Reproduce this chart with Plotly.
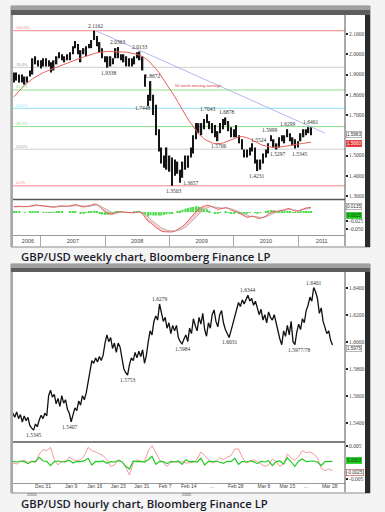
import plotly.graph_objects as go
import pandas as pd

W, H = 385, 512
def px(x): return x / W
def py(y): return 1 - y / H

# ---------------- WEEKLY CHART DATA (semi-monthly high/low bars) ----------------
wk_first_date = "2006-08-01"
wk_low = [
    1.86, 1.87, 1.86, 1.86, 1.85, 1.86, 1.89, 1.90, 1.95, 1.94,
    1.93, 1.94, 1.94, 1.94, 1.91, 1.92, 1.95, 1.98, 1.97, 1.96, 1.97, 1.97,
    2.00, 2.03, 2.00, 1.96, 2.00, 1.99, 2.03, 2.03, 2.07, 2.04, 2.01, 1.98,
    1.96, 1.9338, 1.94, 1.95, 1.98, 1.98, 1.97, 1.96, 1.94, 1.94, 1.94, 1.95,
    1.98, 1.97, 1.92, 1.84, 1.7448, 1.77, 1.70, 1.60, 1.52, 1.46, 1.44, 1.43,
    1.42, 1.3503, 1.40, 1.41, 1.3657, 1.39, 1.43, 1.44, 1.49, 1.51, 1.58, 1.61,
    1.60, 1.63, 1.66, 1.63, 1.61, 1.59, 1.5706, 1.61, 1.63, 1.65, 1.62, 1.59,
    1.59, 1.59, 1.56, 1.53, 1.49, 1.49, 1.50, 1.52, 1.46, 1.4231, 1.43, 1.46,
    1.49, 1.51, 1.57, 1.54, 1.5297, 1.54, 1.57, 1.56, 1.59, 1.57, 1.55, 1.5345,
    1.54, 1.57, 1.59, 1.60, 1.61, 1.60,
]
wk_high = [
    1.91, 1.91, 1.90, 1.90, 1.89, 1.89, 1.92, 1.98, 1.99, 1.97,
    1.97, 1.98, 1.98, 1.97, 1.96, 1.97, 1.99, 2.01, 2.00, 1.99, 2.00, 2.01,
    2.04, 2.0655, 2.05, 2.02, 2.03, 2.04, 2.05, 2.07, 2.1162, 2.09, 2.06, 2.03,
    1.99, 1.99, 1.99, 1.98, 2.03, 2.0363, 2.00, 2.00, 1.99, 1.98, 1.98, 1.99,
    2.01, 2.0133, 1.99, 1.90, 1.80, 1.8672, 1.80, 1.75, 1.63, 1.54, 1.50, 1.54,
    1.50, 1.49, 1.48, 1.47, 1.43, 1.47, 1.50, 1.50, 1.54, 1.60, 1.66, 1.66,
    1.66, 1.68, 1.7043, 1.67, 1.66, 1.65, 1.62, 1.66, 1.68, 1.6878, 1.67, 1.64,
    1.63, 1.65, 1.60, 1.58, 1.53, 1.53, 1.54, 1.56, 1.54, 1.48, 1.48, 1.51,
    1.53, 1.56, 1.5999, 1.58, 1.56, 1.59, 1.60, 1.60, 1.6299, 1.61, 1.59, 1.58,
    1.57, 1.61, 1.63, 1.63, 1.6401, 1.64,
]
wk_ma = [
    1.790, 1.805, 1.820, 1.833, 1.846, 1.858, 1.869, 1.879, 1.888, 1.896,
    1.903, 1.909, 1.915, 1.921, 1.926, 1.931, 1.936, 1.941, 1.946, 1.951, 1.956, 1.961,
    1.966, 1.971, 1.976, 1.981, 1.986, 1.991, 1.996, 2.000, 2.004, 2.007, 2.010, 2.012,
    2.013, 2.014, 2.014, 2.014, 2.013, 2.013, 2.012, 2.011, 2.010, 2.008, 2.006, 2.003,
    2.000, 1.995, 1.988, 1.980, 1.970, 1.958, 1.944, 1.928, 1.910, 1.892, 1.873, 1.853,
    1.832, 1.811, 1.789, 1.767, 1.745, 1.723, 1.701, 1.680, 1.660, 1.641, 1.623, 1.607,
    1.594, 1.583, 1.574, 1.567, 1.562, 1.559, 1.558, 1.559, 1.562, 1.567, 1.573, 1.579,
    1.585, 1.590, 1.593, 1.594, 1.592, 1.588, 1.582, 1.575, 1.568, 1.561, 1.555, 1.550,
    1.546, 1.543, 1.541, 1.540, 1.540, 1.541, 1.543, 1.545, 1.548, 1.550, 1.552, 1.554,
    1.556, 1.558, 1.560, 1.562, 1.564, 1.566,
]
wk_macd = [
    0.016, 0.017, 0.017, 0.016, 0.015, 0.016, 0.017, 0.019, 0.021, 0.020,
    0.019, 0.018, 0.017, 0.016, 0.014, 0.014, 0.016, 0.018, 0.018, 0.017, 0.017, 0.018,
    0.020, 0.022, 0.020, 0.016, 0.015, 0.016, 0.018, 0.020, 0.024, 0.022, 0.016, 0.008,
    0.002, -0.004, -0.006, -0.006, -0.002, 0.001, 0.001, 0.000, -0.002, -0.003, -0.002, -0.001,
    0.001, 0.001, -0.005, -0.015, -0.027, -0.030, -0.038, -0.045, -0.050, -0.055, -0.057, -0.058,
    -0.057, -0.058, -0.055, -0.051, -0.048, -0.042, -0.034, -0.026, -0.017, -0.008, 0.003, 0.010,
    0.014, 0.017, 0.020, 0.019, 0.016, 0.012, 0.008, 0.009, 0.011, 0.013, 0.011, 0.006,
    0.003, 0.002, -0.003, -0.007, -0.012, -0.015, -0.014, -0.012, -0.014, -0.018, -0.018, -0.016,
    -0.012, -0.006, 0.000, 0.003, 0.002, 0.003, 0.006, 0.007, 0.010, 0.010, 0.006, 0.003,
    0.003, 0.006, 0.010, 0.012, 0.013, 0.0135,
]
wk_signal = [
    0.015, 0.016, 0.016, 0.016, 0.016, 0.016, 0.016, 0.017, 0.018, 0.019,
    0.019, 0.019, 0.018, 0.017, 0.016, 0.015, 0.015, 0.016, 0.017, 0.017, 0.017, 0.017,
    0.018, 0.019, 0.020, 0.019, 0.018, 0.017, 0.017, 0.018, 0.020, 0.021, 0.019, 0.015,
    0.010, 0.004, 0.000, -0.003, -0.003, -0.002, -0.001, 0.000, -0.001, -0.002, -0.002, -0.002,
    -0.001, 0.000, -0.002, -0.007, -0.014, -0.021, -0.028, -0.035, -0.040, -0.045, -0.049, -0.052,
    -0.054, -0.055, -0.055, -0.054, -0.052, -0.049, -0.044, -0.038, -0.031, -0.023, -0.014, -0.006,
    0.001, 0.007, 0.012, 0.015, 0.016, 0.015, 0.013, 0.011, 0.011, 0.012, 0.012, 0.010,
    0.007, 0.004, 0.001, -0.002, -0.006, -0.010, -0.012, -0.012, -0.013, -0.015, -0.016, -0.016,
    -0.014, -0.011, -0.006, -0.002, 0.000, 0.002, 0.004, 0.005, 0.007, 0.008, 0.007, 0.005,
    0.004, 0.005, 0.007, 0.009, 0.011, 0.012,
]
wk_last_close = 1.5983
wk_dates = pd.date_range(wk_first_date, periods=len(wk_low), freq="SMS")
wk_range = ["2006-07-27", "2011-09-24"]

wk_price_ticks = [1.3, 1.4, 1.5, 1.6, 1.7, 1.8, 1.9, 2.0, 2.1]
wk_price_ticktext = ["1.3000", "1.4000", "1.5000", "", "1.7000", "1.8000", "1.9000", "2.0000", "2.1000"]
wk_macd_ticks = [-0.025, -0.05]
wk_macd_ticktext = ["-0.025", "-0.050"]
wk_year_label_dates = ["2006-10-20", "2007-07-02", "2008-07-01", "2009-07-02", "2010-07-02", "2011-05-15"]
wk_year_labels = ["2006", "2007", "2008", "2009", "2010", "2011"]

fib_high, fib_low = 2.1162, 1.3503
fib_pcts = [1.0, 0.764, 0.618, 0.5, 0.382, 0.236, 0.0]
fib_names = ["100.0%", "76.4%", "61.8%", "50.0%", "38.2%", "23.6%", "0.0%"]
fib_colors = ["#f08a8a", "#cfcfcf", "#8be08b", "#8fe3f5", "#8be08b", "#cfcfcf", "#f08a8a"]

trend_dates = ["2007-11-09", "2011-06-01"]
trend_vals = [2.1162, 1.611]

wk_lab_dates = ["2007-11-09", "2008-03-14", "2008-07-15", "2008-01-22", "2008-09-25", "2008-09-10",
                "2009-01-23", "2009-03-02", "2009-08-05", "2009-11-20", "2009-10-05", "2010-05-20",
                "2010-05-12", "2010-07-22", "2010-09-08", "2010-11-04", "2011-01-08", "2011-03-10"]
wk_lab_vals = [2.1162, 2.0363, 2.0133, 1.9338, 1.8672, 1.7448,
               1.3503, 1.3657, 1.7043, 1.6878, 1.5706, 1.5524,
               1.4231, 1.5999, 1.5297, 1.6299, 1.5345, 1.6401]
wk_lab_dir = ["a", "a", "a", "b", "a", "l",
              "b", "r", "a", "a", "b", "a",
              "b", "a", "b", "a", "b", "a"]

# ---------------- HOURLY CHART DATA ----------------
hr_t0, hr_step = -2.4, 0.4          # trading-day index (Dec 27, 2010 = 0)
hr_close = [
    1.5470, 1.5440, 1.5480, 1.5430, 1.5460, 1.5405, 1.5450, 1.5415, 1.5440, 1.5380,
    1.5360, 1.5345, 1.5390, 1.5370, 1.5420, 1.5455, 1.5430, 1.5470, 1.5450, 1.5600,
    1.5640, 1.5590, 1.5610, 1.5540, 1.5580, 1.5520, 1.5600, 1.5545, 1.5570, 1.5500,
    1.5470, 1.5407, 1.5460, 1.5510, 1.5490, 1.5560, 1.5530, 1.5600, 1.5570, 1.5620,
    1.5700, 1.5780, 1.5860, 1.5840, 1.5880, 1.5850, 1.5890, 1.5860, 1.5900, 1.5990,
    1.6050, 1.6000, 1.6030, 1.5950, 1.5990, 1.5920, 1.5990, 1.5960, 1.5860, 1.5800,
    1.5770, 1.5753, 1.5830, 1.5880, 1.5860, 1.5920, 1.5880, 1.5930, 1.5890, 1.5940,
    1.5840, 1.5900, 1.6000, 1.6080, 1.6050, 1.6150, 1.6190, 1.6160, 1.6279, 1.6200,
    1.6150, 1.6180, 1.6100, 1.6140, 1.6060, 1.6120, 1.6080, 1.6120, 1.6030, 1.6000,
    1.5984, 1.6020, 1.6050, 1.6000, 1.6100, 1.6060, 1.6170, 1.6120, 1.6080, 1.6180,
    1.6130, 1.6210, 1.6090, 1.6040, 1.6140, 1.6100, 1.6200, 1.6235, 1.6150, 1.6110,
    1.6200, 1.6230, 1.6140, 1.6090, 1.6060, 1.6031, 1.6080, 1.6130, 1.6190, 1.6250,
    1.6290, 1.6260, 1.6310, 1.6280, 1.6320, 1.6344, 1.6300, 1.6320, 1.6270, 1.6300,
    1.6250, 1.6200, 1.6240, 1.6160, 1.6200, 1.6140, 1.6220, 1.6180, 1.6160, 1.6200,
    1.6140, 1.6070, 1.6020, 1.5977, 1.6080, 1.6040, 1.6120, 1.6050, 1.6150, 1.6000,
    1.5978, 1.6070, 1.6130, 1.6090, 1.6170, 1.6140, 1.6230, 1.6270, 1.6330, 1.6300,
    1.6401, 1.6370, 1.6320, 1.6210, 1.6250, 1.6150, 1.6100, 1.6060, 1.6080, 1.6010,
    1.5975,
]
hr_osc_t0, hr_osc_step = -2.4, 0.8
hr_red = [
    -0.0002, -0.0005, 0.0002, 0.0007, 0.0000, 0.0002, 0.0000, 0.0025, 0.0038, 0.0035,
    0.0045, 0.0008, -0.0008, 0.0004, 0.0000, 0.0016, 0.0008, 0.0004, 0.0008, 0.0020,
    0.0045, 0.0035, 0.0031, 0.0025, 0.0020, 0.0008, -0.0012, -0.0008, 0.0008, 0.0002,
    -0.0015, -0.0038, -0.0002, 0.0008, 0.0002, 0.0002, 0.0035, 0.0050, 0.0027, 0.0008,
    -0.0002, -0.0012, 0.0000, 0.0002, 0.0000, 0.0002, -0.0002, 0.0000, 0.0000, 0.0010,
    0.0031, 0.0020, 0.0008, -0.0002, 0.0002, 0.0014, 0.0008, 0.0016, 0.0020, 0.0040,
    0.0040, 0.0016, -0.0002, 0.0002, 0.0008, 0.0002, -0.0005, -0.0012, -0.0008, 0.0010,
    0.0002, -0.0012, -0.0005, 0.0025, 0.0014, 0.0006, 0.0018, 0.0035, 0.0029, 0.0031,
    0.0025, 0.0014, -0.0018, -0.0025, -0.0020, -0.0025,
]
hr_green = [
    0.0003, 0.0001, 0.0004, 0.0002, -0.0004, 0.0003, 0.0002, 0.0015, 0.0004, 0.0003,
    -0.0010, 0.0002, 0.0004, 0.0001, 0.0003, 0.0006, -0.0002, 0.0003, 0.0002, 0.0005,
    0.0012, -0.0008, 0.0003, 0.0002, 0.0004, -0.0003, 0.0002, 0.0001, 0.0005, 0.0002,
    -0.0012, -0.0020, 0.0004, 0.0002, 0.0003, 0.0001, 0.0008, 0.0018, -0.0006, 0.0003,
    0.0002, -0.0004, 0.0003, 0.0001, 0.0004, -0.0006, 0.0008, 0.0002, 0.0003, 0.0001,
    0.0012, -0.0008, 0.0003, 0.0002, 0.0004, 0.0001, -0.0003, 0.0003, 0.0002, 0.0012,
    -0.0006, 0.0003, 0.0001, 0.0004, 0.0002, -0.0004, 0.0003, 0.0001, 0.0005, -0.0010,
    0.0002, 0.0004, -0.0005, 0.0014, 0.0002, -0.0012, 0.0004, 0.0010, 0.0002, 0.0003,
    0.0004, 0.0001, -0.0010, 0.0002, 0.0003, 0.0003,
]
hr_range = [-2.38, 68.26]
hr_price_ticks = [1.54, 1.56, 1.58, 1.60, 1.62, 1.64]
hr_osc_ticks = [0.005, -0.005]
hr_osc_ticktext = ["0.005", "-0.005"]
hr_day_ticks = [4, 10, 15, 20, 25, 30, 35, 40, 45, 51, 56, 60, 65]
hr_day_labels = ["Dec 31", "Jan 9", "Jan 16", "Jan 23", "Jan 31", "Feb 7", "Feb 14", "...",
                 "Feb 28", "Mar 8", "Mar 15", "...", "Mar 28"]
hr_year_labels = ["2010", "2011"]

hr_lab_t = [2.0, 9.6, 22.0, 28.8, 33.6, 43.6, 47.6, 58.5, 61.6]
hr_lab_vals = [1.5345, 1.5407, 1.5753, 1.6279, 1.5984, 1.6031, 1.6344, 1.5977, 1.6401]
hr_lab_text = ["1.5345", "1.5407", "1.5753", "1.6279", "1.5984", "1.6031", "1.6344", "1.5977/78", "1.6401"]
hr_lab_dir = ["b", "b", "b", "a", "b", "b", "a", "b", "a"]

captions = ["GBP/USD weekly chart, Bloomberg Finance LP", "GBP/USD hourly chart, Bloomberg Finance LP"]

# ---------------- FIGURE ----------------
hr_t = [hr_t0 + i * hr_step for i in range(len(hr_close))]
hr_osc_t = [hr_osc_t0 + i * hr_osc_step for i in range(len(hr_red))]
wk_hist = [m - s for m, s in zip(wk_macd, wk_signal)]
DAY_MS = 86400000

fig = go.Figure()
fig.add_trace(go.Bar(x=wk_dates, y=[h - l for h, l in zip(wk_high, wk_low)], base=wk_low,
                     width=8 * DAY_MS, marker=dict(color="#151515", line=dict(width=0)),
                     xaxis="x", yaxis="y", hoverinfo="skip"))
fig.add_trace(go.Scatter(x=wk_dates, y=wk_ma, mode="lines", line=dict(color="#e8605a", width=1),
                         xaxis="x", yaxis="y", hoverinfo="skip"))
fig.add_trace(go.Scatter(x=trend_dates, y=trend_vals, mode="lines", line=dict(color="#a4a4e4", width=0.8),
                         xaxis="x", yaxis="y", hoverinfo="skip"))
fig.add_trace(go.Bar(x=wk_dates, y=wk_hist, width=12 * DAY_MS, marker=dict(color="#48dc48", line=dict(width=0)),
                     xaxis="x2", yaxis="y2", hoverinfo="skip"))
fig.add_trace(go.Scatter(x=wk_dates, y=wk_signal, mode="lines", line=dict(color="#b8b8b8", width=1),
                         xaxis="x2", yaxis="y2", hoverinfo="skip"))
fig.add_trace(go.Scatter(x=wk_dates, y=wk_macd, mode="lines", line=dict(color="#e8605a", width=1),
                         fill="tonexty", fillcolor="rgba(240,120,120,0.35)",
                         xaxis="x2", yaxis="y2", hoverinfo="skip"))
fig.add_trace(go.Scatter(x=hr_t, y=hr_close, mode="lines", line=dict(color="#111111", width=1.3),
                         xaxis="x3", yaxis="y3", hoverinfo="skip"))
fig.add_trace(go.Scatter(x=hr_osc_t, y=hr_red, mode="lines", line=dict(color="#f08080", width=0.8),
                         xaxis="x4", yaxis="y4", hoverinfo="skip"))
fig.add_trace(go.Scatter(x=hr_osc_t, y=hr_green, mode="lines", line=dict(color="#22cc22", width=1.2),
                         xaxis="x4", yaxis="y4", hoverinfo="skip"))

tick_font = dict(family="Liberation Serif", size=5.5, color="#444444")
common_y = dict(side="right", showgrid=False, zeroline=False, showline=False, ticks="outside",
                ticklen=2, tickwidth=1.5, tickcolor="#222222", tickfont=tick_font, fixedrange=True)
xdom = [px(13), px(345)]
fig.update_layout(
    width=W, height=H, margin=dict(l=0, r=0, t=0, b=0),
    paper_bgcolor="#f4f4f4", plot_bgcolor="#ffffff", showlegend=False, barmode="overlay",
    xaxis=dict(domain=xdom, range=wk_range, type="date", anchor="y", showticklabels=False, ticks="",
               showgrid=False, zeroline=False),
    yaxis=dict(domain=[py(199), py(15)], range=[1.2852, 2.1938], anchor="x", tickvals=wk_price_ticks,
               ticktext=wk_price_ticktext, **common_y),
    xaxis2=dict(domain=xdom, range=wk_range, type="date", matches="x", anchor="y2",
                tickvals=wk_year_label_dates, ticktext=wk_year_labels, ticks="outside", ticklen=0,
                tickfont=dict(family="Liberation Sans", size=5.5, color="#444444"),
                minor=dict(ticks="outside", ticklen=11, tickcolor="#aaaaaa", tickwidth=1,
                           dtick="M12", tick0="2007-01-01"),
                showgrid=False, zeroline=False, showline=True, linecolor="#999999", linewidth=1),
    yaxis2=dict(domain=[py(235), py(200)], range=[-0.0666, 0.0352], anchor="x2", tickvals=wk_macd_ticks,
                ticktext=wk_macd_ticktext, **common_y),
    xaxis3=dict(domain=xdom, range=hr_range, anchor="y3", showticklabels=False, ticks="",
                showgrid=False, zeroline=False),
    yaxis3=dict(domain=[py(442), py(272)], range=[1.5257, 1.6516], anchor="x3", tickvals=hr_price_ticks,
                ticktext=[f"{v:.4f}" for v in hr_price_ticks], **common_y),
    xaxis4=dict(domain=xdom, range=hr_range, matches="x3", anchor="y4", tickvals=hr_day_ticks,
                ticktext=hr_day_labels, ticks="", ticklabelstandoff=-2,
                tickfont=dict(family="Liberation Sans", size=5, color="#444444"),
                showgrid=False, zeroline=False, showline=True, linecolor="#999999", linewidth=1),
    yaxis4=dict(domain=[py(483), py(442)], range=[-0.0062, 0.0061], anchor="x4", tickvals=hr_osc_ticks,
                ticktext=hr_osc_ticktext, **common_y),
)

def rect(x0, y0, x1, y1, fill, line_color=None, layer="below", lw=1):
    return dict(type="rect", xref="paper", yref="paper", x0=px(x0), x1=px(x1), y0=py(y1), y1=py(y0),
                fillcolor=fill, line=dict(width=lw if line_color else 0, color=line_color or fill), layer=layer)

def hline(x0, x1, y, color, w=1, layer="above"):
    return dict(type="line", xref="paper", yref="paper", x0=px(x0), x1=px(x1), y0=py(y), y1=py(y),
                line=dict(color=color, width=w), layer=layer)

def vline(x, y0, y1, color, w=1, layer="above"):
    return dict(type="line", xref="paper", yref="paper", x0=px(x), x1=px(x), y0=py(y0), y1=py(y1),
                line=dict(color=color, width=w), layer=layer)

shapes = []
for (top, bot, plot_top, sep, plot_bot) in [(6, 247, 15, 199.5, 235), (264, 493, 272, 442, 483)]:
    shapes.append(rect(11, top, 370, bot, "#ffffff", "#8a8a8a"))
    shapes.append(rect(11, top, 370, top + 4, "#a0a0a0", layer="above"))
    shapes.append(rect(11, top + 4, 370, plot_top, "#5e5e5e", layer="above"))
    shapes.append(rect(11, plot_top, 13, bot, "#a8a8a8", layer="above"))
    shapes.append(rect(365, plot_top, 370, bot, "#2b2b2b", layer="above"))
    shapes.append(hline(13, 345, sep, "#555555", 1.5))
    shapes.append(vline(345, plot_top, bot - 1, "#555555", 1))

for p, c in zip(fib_pcts, fib_colors):
    lvl = fib_low + p * (fib_high - fib_low)
    shapes.append(dict(type="line", xref="x domain", yref="y", x0=0, x1=1, y0=lvl, y1=lvl,
                       line=dict(color=c, width=1), layer="below"))
fig.update_layout(shapes=shapes)

ann = []
lab_font = dict(family="Liberation Serif", size=5.5, color="#333333")
for p, n, c in zip(fib_pcts, fib_names, fib_colors):
    lvl = fib_low + p * (fib_high - fib_low)
    ann.append(dict(x=0.003, xref="x domain", y=lvl, yref="y", text=n, showarrow=False, xanchor="left",
                    yshift=3, font=dict(family="Liberation Sans", size=4, color=c.replace("#cfcfcf", "#a0a0a0"))))
ann.append(dict(x="2009-06-12", xref="x", y=1.848, yref="y", text="50 week moving average", showarrow=False,
                font=dict(family="Liberation Sans", size=4.2, color="#e04040")))

shift = {"a": (0, 5), "b": (0, -5), "l": (-7, -2), "r": (10, 0)}
for d, v, r in zip(wk_lab_dates, wk_lab_vals, wk_lab_dir):
    xs, ys = shift[r]
    ann.append(dict(x=d, xref="x", y=v, yref="y", text=f"{v:.4f}", showarrow=False,
                    xshift=xs, yshift=ys, font=lab_font))
for t, v, txt, r in zip(hr_lab_t, hr_lab_vals, hr_lab_text, hr_lab_dir):
    xs, ys = shift[r]
    ann.append(dict(x=t, xref="x3", y=v, yref="y3", text=txt, showarrow=False,
                    xshift=xs, yshift=ys, font=lab_font))

def side_box(val, yref, text, bg, border, fcolor="#333333", ys=0):
    return dict(x=px(346), xref="paper", y=val, yref=yref, text=text, showarrow=False, xanchor="left",
                bgcolor=bg, bordercolor=border, borderwidth=0.6, borderpad=0.3, yshift=ys,
                font=dict(family="Liberation Sans", size=4.6, color=fcolor))

ann.append(side_box(wk_last_close, "y", f"{wk_last_close:.4f}", "#ffffff", "#888888", ys=1))
ann.append(side_box(wk_ma[-1], "y", f"{wk_ma[-1]:.4f}", "#e03030", "#e03030", "#ffffff", ys=-1))
ann.append(side_box(wk_macd[-1], "y2", f"{wk_macd[-1]:.4f}", "#ffffff", "#888888", ys=1))
ann.append(side_box(wk_hist[-1], "y2", f"{wk_hist[-1]:.4f}", "#22cc22", "#22cc22", "#0a3a0a", ys=-4))
ann.append(side_box(hr_close[-1], "y3", f"{hr_close[-1]:.4f}", "#ffffff", "#888888", ys=-3))
ann.append(side_box(hr_green[-1], "y4", f"{hr_green[-1]:.4f}", "#22cc22", "#22cc22", "#0a3a0a", ys=1))
ann.append(side_box(hr_red[-1], "y4", f"{hr_red[-1]:.4f}", "#ffffff", "#c04040", ys=-2))

for yl, xx in zip(hr_year_labels, [25, 187]):
    ann.append(dict(x=px(xx), xref="paper", y=py(489.5), yref="paper", text=yl, showarrow=False,
                    yanchor="top", font=dict(family="Liberation Sans", size=4.3, color="#444444")))

for cap, yy in zip(captions, [256, 503]):
    ann.append(dict(x=px(19), xref="paper", y=py(yy), yref="paper", text=cap, showarrow=False,
                    xanchor="left", yanchor="middle",
                    font=dict(family="Open Sans", size=11.3, color="#1b1b2b", weight=600)))

fig.update_layout(annotations=ann)
fig.write_html("out.html", config={"displayModeBar": False},
               post_script="document.body.style.margin='0px';")
